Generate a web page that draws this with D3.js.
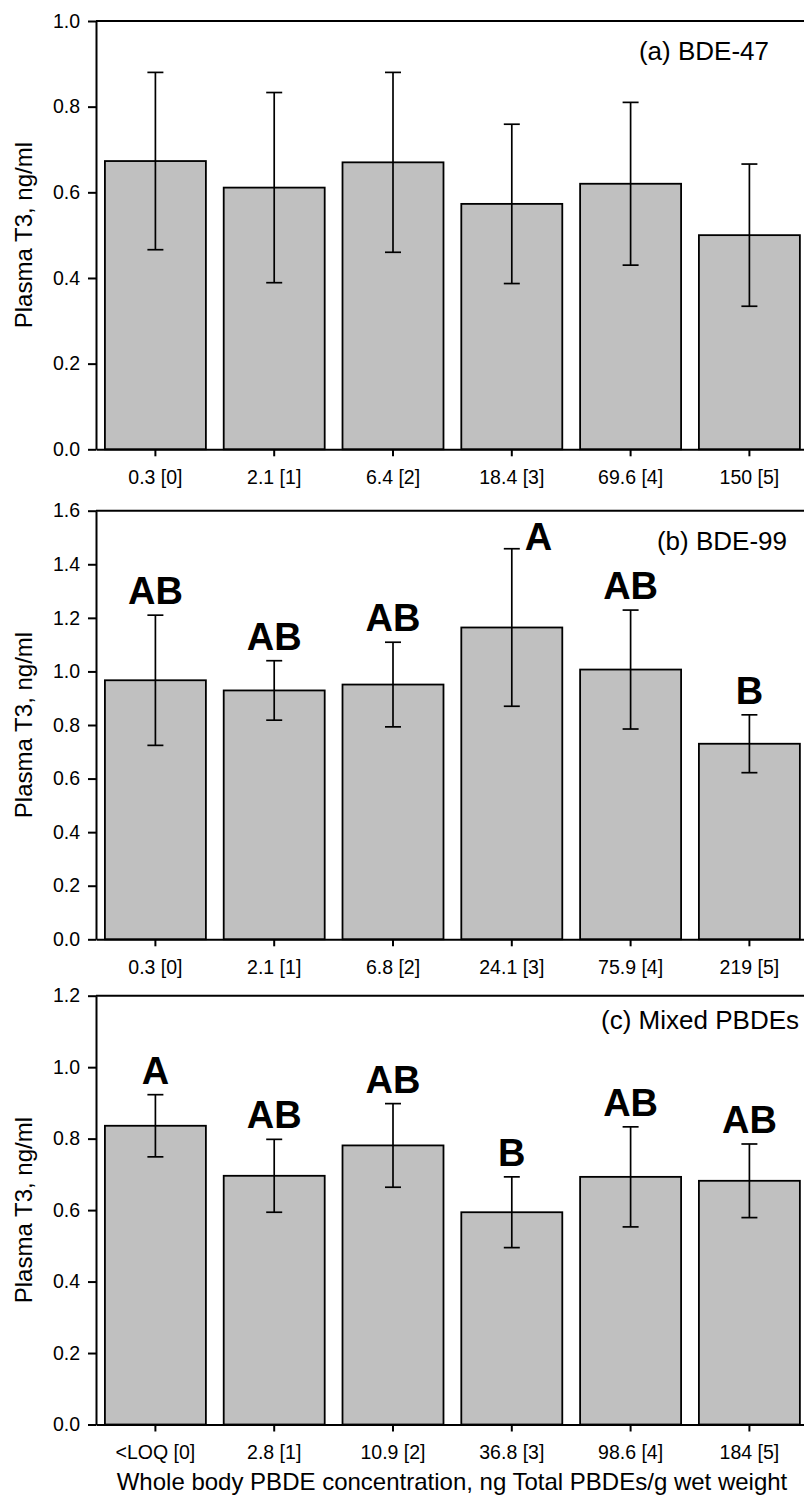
<!DOCTYPE html>
<html>
<head>
<meta charset="utf-8">
<script src="https://cdn.jsdelivr.net/npm/d3@7"></script>
<style>
  html, body { margin: 0; padding: 0; background: #fff; }
  svg { display: block; font-family: "Liberation Sans", Arial, sans-serif; }
</style>
</head>
<body>
<svg id="chart" width="804" height="1499"></svg>
<script>
// ---------- Data ----------
const categoriesA = ["0.3 [0]", "2.1 [1]", "6.4 [2]", "18.4 [3]", "69.6 [4]", "150 [5]"];
const meansA = [0.673, 0.611, 0.670, 0.573, 0.620, 0.500];
const errA = [0.207, 0.222, 0.210, 0.186, 0.190, 0.166];
const lettersA = ["", "", "", "", "", ""];
const ticksA = [0.0, 0.2, 0.4, 0.6, 0.8, 1.0];

const categoriesB = ["0.3 [0]", "2.1 [1]", "6.8 [2]", "24.1 [3]", "75.9 [4]", "219 [5]"];
const meansB = [0.967, 0.929, 0.951, 1.164, 1.007, 0.730];
const errB = [0.243, 0.111, 0.158, 0.294, 0.222, 0.108];
const lettersB = ["AB", "AB", "AB", "A", "AB", "B"];
const ticksB = [0.0, 0.2, 0.4, 0.6, 0.8, 1.0, 1.2, 1.4, 1.6];

const categoriesC = ["<LOQ [0]", "2.8 [1]", "10.9 [2]", "36.8 [3]", "98.6 [4]", "184 [5]"];
const meansC = [0.836, 0.696, 0.781, 0.594, 0.693, 0.682];
const errC = [0.087, 0.102, 0.117, 0.099, 0.140, 0.103];
const lettersC = ["A", "AB", "AB", "B", "AB", "AB"];
const ticksC = [0.0, 0.2, 0.4, 0.6, 0.8, 1.0, 1.2];

const titles = ["(a) BDE-47", "(b) BDE-99", "(c) Mixed PBDEs"];
const yAxisLabel = "Plasma T3, ng/ml";
const xAxisLabel = "Whole body PBDE concentration, ng Total PBDEs/g wet weight";

// ---------- Layout ----------
const svg = d3.select("#chart");
const W = 804;
const left = 96, rightEnd = 808.8;
const panels = [
  { cats: categoriesA, means: meansA, err: errA, letters: lettersA, ticks: ticksA, title: titles[0],
    top: 21, bottom: 449.3, titleX: 769, titleDY: 39 },
  { cats: categoriesB, means: meansB, err: errB, letters: lettersB, ticks: ticksB, title: titles[1],
    top: 510.7, bottom: 939.3, titleX: 787, titleDY: 39 },
  { cats: categoriesC, means: meansC, err: errC, letters: lettersC, ticks: ticksC, title: titles[2],
    top: 995.7, bottom: 1424.5, titleX: 799, titleDY: 33 }
];

const tickFont = 19.5, titleFont = 26, letterFont = 38, axisTitleFont = 24;

panels.forEach(p => {
  const g = svg.append("g");
  const x = d3.scaleBand().domain(p.cats).range([left, rightEnd])
    .paddingInner(0.15).paddingOuter(0.075);
  const yMax = p.ticks[p.ticks.length - 1];
  const y = d3.scaleLinear().domain([0, yMax]).range([p.bottom, p.top]);

  const data = p.cats.map((c, i) => ({ c, m: p.means[i], e: p.err[i], l: p.letters[i] }));

  // bars
  g.selectAll("rect.bar").data(data).enter().append("rect")
    .attr("class", "bar")
    .attr("x", d => x(d.c))
    .attr("width", x.bandwidth())
    .attr("y", d => y(d.m))
    .attr("height", d => y(0) - y(d.m))
    .attr("fill", "#c0c0c0")
    .attr("stroke", "#000")
    .attr("stroke-width", 1.8);

  // error bars
  const capHalf = 8;
  const eb = g.selectAll("g.eb").data(data).enter().append("g")
    .attr("class", "eb")
    .attr("stroke", "#000").attr("stroke-width", 1.7);
  eb.append("line")
    .attr("x1", d => x(d.c) + x.bandwidth() / 2).attr("x2", d => x(d.c) + x.bandwidth() / 2)
    .attr("y1", d => y(d.m - d.e)).attr("y2", d => y(d.m + d.e));
  eb.append("line")
    .attr("x1", d => x(d.c) + x.bandwidth() / 2 - capHalf).attr("x2", d => x(d.c) + x.bandwidth() / 2 + capHalf)
    .attr("y1", d => y(d.m + d.e)).attr("y2", d => y(d.m + d.e));
  eb.append("line")
    .attr("x1", d => x(d.c) + x.bandwidth() / 2 - capHalf).attr("x2", d => x(d.c) + x.bandwidth() / 2 + capHalf)
    .attr("y1", d => y(d.m - d.e)).attr("y2", d => y(d.m - d.e));

  // significance letters
  const gap = 11, capH = letterFont * 0.716;
  g.selectAll("text.letter").data(data.filter(d => d.l)).enter().append("text")
    .attr("class", "letter")
    .each(function (d) {
      const cx = x(d.c) + x.bandwidth() / 2;
      const yTop = y(d.m + d.e);
      let base = yTop - gap;
      const t = d3.select(this);
      if (base - capH < p.top) {
        // not enough room above: place beside the error bar cap
        t.attr("x", cx + capHalf + 5).attr("y", yTop + 1).attr("text-anchor", "start");
      } else {
        t.attr("x", cx).attr("y", base).attr("text-anchor", "middle");
      }
    })
    .attr("font-size", letterFont)
    .attr("font-weight", "bold")
    .attr("fill", "#000")
    .text(d => d.l);

  // axes
  const yAxis = d3.axisLeft(y).tickValues(p.ticks).tickFormat(d3.format(".1f"))
    .tickSize(8).tickSizeOuter(0).tickPadding(8);
  const ya = g.append("g").attr("transform", `translate(${left},0)`).call(yAxis);
  ya.selectAll("text").attr("font-size", tickFont).attr("font-family", "Liberation Sans, Arial, sans-serif").attr("fill", "#000");
  ya.selectAll("line").attr("stroke-width", 2);
  ya.select(".domain").attr("stroke-width", 2);

  const xAxis = d3.axisBottom(x).tickSize(7).tickSizeOuter(0).tickPadding(14);
  const xa = g.append("g").attr("transform", `translate(0,${p.bottom})`).call(xAxis);
  xa.selectAll("text").attr("font-size", tickFont).attr("font-family", "Liberation Sans, Arial, sans-serif").attr("fill", "#000");
  xa.selectAll("line").attr("stroke-width", 2);
  xa.select(".domain").attr("stroke-width", 2);

  // top frame line
  g.append("line").attr("x1", left).attr("x2", W).attr("y1", p.top).attr("y2", p.top)
    .attr("stroke", "#000").attr("stroke-width", 2);

  // panel title
  g.append("text").attr("x", p.titleX).attr("y", p.top + p.titleDY)
    .attr("text-anchor", "end").attr("font-size", titleFont).attr("fill", "#000")
    .text(p.title);

  // y-axis label
  g.append("text")
    .attr("transform", `translate(32,${(p.top + p.bottom) / 2}) rotate(-90)`)
    .attr("text-anchor", "middle").attr("font-size", axisTitleFont).attr("fill", "#000")
    .text(yAxisLabel);
});

// x-axis title
svg.append("text").attr("x", 452).attr("y", 1490)
  .attr("text-anchor", "middle").attr("font-size", axisTitleFont).attr("fill", "#000")
  .text(xAxisLabel);
</script>
</body>
</html>
